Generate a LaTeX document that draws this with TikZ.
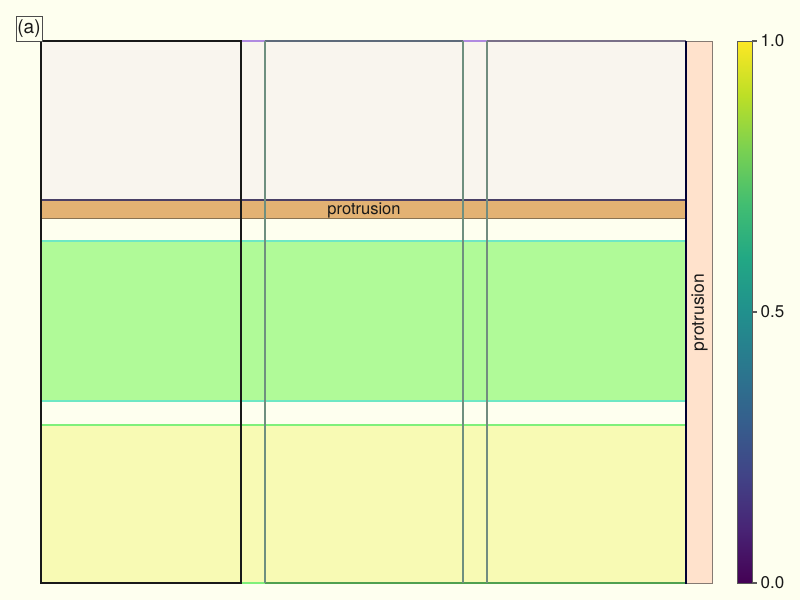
\documentclass[tikz,border=0pt]{standalone}
\usepackage{fontspec}
\setmainfont{TeX Gyre Heros}
\definecolor{bg}{HTML}{FEFFEF}
\definecolor{topfill}{HTML}{F9F5EE}
\definecolor{topedge}{HTML}{4A3F66}
\definecolor{orangefill}{HTML}{E3B273}
\definecolor{orangeedge}{HTML}{8A7352}
\definecolor{greenfill}{HTML}{B0FA98}
\definecolor{greenedge}{HTML}{6EE8C4}
\definecolor{yellowfill}{HTML}{F8FAB4}
\definecolor{yellowedge}{HTML}{7FF07A}
\definecolor{peach}{HTML}{FFE2CC}
\definecolor{peachedge}{HTML}{857A72}
\definecolor{colline}{HTML}{6F8F7F}
\definecolor{lavender}{HTML}{B08AE0}
\definecolor{slateedge}{HTML}{5E6A7A}
\definecolor{mauveedge}{HTML}{7A7088}
\definecolor{botgreen}{HTML}{50A050}
\definecolor{vA}{HTML}{440154}
\definecolor{vB}{HTML}{482475}
\definecolor{vC}{HTML}{414487}
\definecolor{vD}{HTML}{355F8D}
\definecolor{vE}{HTML}{2A788E}
\definecolor{vF}{HTML}{21908D}
\definecolor{vG}{HTML}{22A884}
\definecolor{vH}{HTML}{42BE71}
\definecolor{vI}{HTML}{7AD151}
\definecolor{vJ}{HTML}{BDDF26}
\definecolor{vK}{HTML}{FDE725}
% viridis ramp over the central 50bp that TikZ stretches onto the path
\pgfdeclareverticalshading{viridisbar}{100bp}{color(0bp)=(vA); color(25bp)=(vA); color(30bp)=(vB); color(35bp)=(vC); color(40bp)=(vD); color(45bp)=(vE); color(50bp)=(vF); color(55bp)=(vG); color(60bp)=(vH); color(65bp)=(vI); color(70bp)=(vJ); color(75bp)=(vK); color(100bp)=(vK)}
\tikzset{
  band/.style={line width=1.5pt},
  colrule/.style={draw=colline, line width=1.3pt},
  lbl/.style={inner sep=0pt, text=black!90, font=\fontsize{16.5}{19}\selectfont},
  ticklbl/.style={anchor=west, inner sep=0pt, text=black!90, font=\fontsize{17}{20}\selectfont},
  tick/.style={draw=gray!70!black, line width=1.2pt},
}
\begin{document}
\begin{tikzpicture}[x=1pt,y=-1pt]
  \fill[bg] (0,0) rectangle (800,600);
  \useasboundingbox (0,0) rectangle (800,600);

  % horizontal bands
  \fill[topfill] (41,41) rectangle (686,200);
  \fill[greenfill] (41,241) rectangle (686,401);
  \draw[greenedge, band] (41,241) -- (686,241);
  \draw[greenedge, band] (41,401) -- (686,401);
  \fill[yellowfill] (41,425) rectangle (686,583);
  \draw[yellowedge, band] (41,425) -- (686,425);

  % edges of the column frames
  \draw[lavender, line width=1.5pt] (241,41) -- (265,41);
  \draw[slateedge, line width=1.5pt] (265,41) -- (463,41);
  \draw[lavender, line width=1.5pt] (463,41) -- (487,41);
  \draw[mauveedge, line width=1.5pt] (487,41) -- (686,41);
  \draw[yellowedge, line width=1.5pt] (241,583) -- (265,583);
  \draw[botgreen, line width=1.5pt] (265,583) -- (686,583);

  % protrusion strip
  \node[draw=none, fill=orangefill, minimum width=645pt, minimum height=17pt, inner sep=0pt, anchor=north west] (strip) at (41,201) {};
  \draw[topedge, line width=1.5pt] (41,200) -- (686,200);
  \draw[orangeedge, line width=1pt] (strip.south west) -- (strip.south east);
  \node[lbl, anchor=base] (striplbl) at (364,214.5) {protrusion};

  % column rules
  \draw[colrule] (265,41) -- (265,583);
  \draw[colrule] (463,41) -- (463,583);
  \draw[colrule, draw=colline!80!gray] (487,41) -- (487,583);

  % right protrusion column
  \node[draw=peachedge, fill=peach, line width=1.2pt, minimum width=26pt, minimum height=542pt, inner sep=0pt, anchor=north west] (side) at (686,41) {};
  \draw[black!80!blue, line width=1.5pt] (side.north west) -- (side.south west);
  \node[lbl, rotate=90, font=\fontsize{17.5}{20}\selectfont] (sidelbl) at (side.center) {protrusion};

  % first column frame
  \draw[black!90, line width=2pt] (41,41) rectangle (241,583);
  \draw[black!90, line width=1.5pt] (41,200) -- (41,218);

  % colour bar
  \shade[shading=viridisbar] (737,41) rectangle (752,583);
  \node[draw=gray!70!black, line width=1.2pt, minimum width=15pt, minimum height=542pt, inner sep=0pt, anchor=north west] (cbar) at (737,41) {};
  \coordinate (t0) at (752,583);
  \coordinate (t5) at (752,312);
  \coordinate (t1) at (752,41);
  \draw[tick] (t0) -- ++(5,0) node[ticklbl, xshift=3pt] (l0) {0.0};
  \draw[tick] (t5) -- ++(5,0) node[ticklbl, xshift=3pt] (l5) {0.5};
  \draw[tick] (t1) -- ++(5,0) node[ticklbl, xshift=3pt] (l1) {1.0};

  % panel tag
  \node[draw=gray!60!black, line width=1pt, fill=bg, minimum width=26pt, minimum height=25pt, inner sep=0pt, text=black!90, font=\fontsize{19}{22}\selectfont] (tag) at (29,29) {(a)};
\end{tikzpicture}
\end{document}
